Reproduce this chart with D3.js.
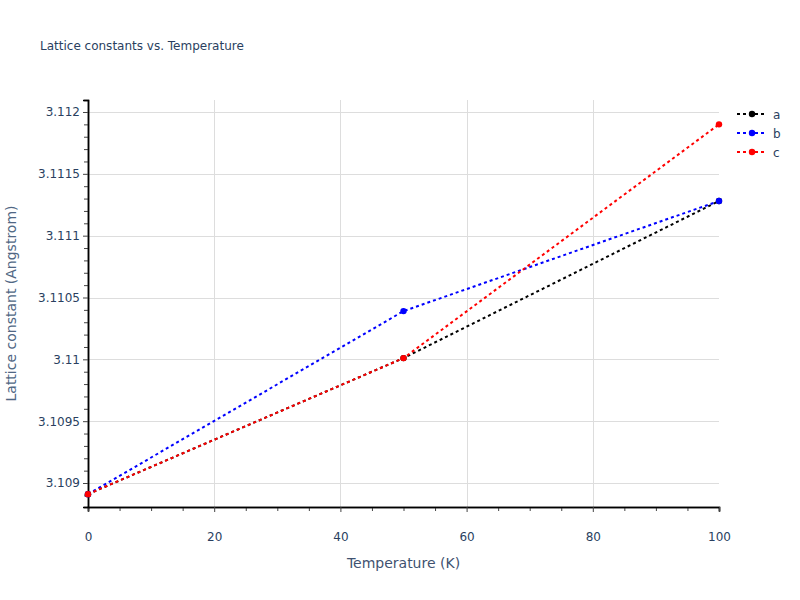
<!DOCTYPE html>
<html>
<head>
<meta charset="utf-8">
<script src="https://cdn.jsdelivr.net/npm/d3@7"></script>
<style>
  body { margin: 0; background: #fff; }
  text { font-family: "DejaVu Sans", Verdana, sans-serif; }
</style>
</head>
<body>
<div id="chart"></div>
<script>
var temperatures = [0, 50, 100];
var seriesNames = ['a', 'b', 'c'];
var seriesColors = ['#000000', '#0000ff', '#ff0000'];
var valuesA = [3.10891, 3.11001, 3.11128];
var valuesB = [3.10891, 3.11039, 3.11128];
var valuesC = [3.10891, 3.11001, 3.11190];
var xTicks = [0, 20, 40, 60, 80, 100];
var yTicks = [3.109, 3.1095, 3.11, 3.1105, 3.111, 3.1115, 3.112];

var width = 800, height = 600,
    plotLeft = 88, plotRight = 719, plotTop = 100, plotBottom = 507,
    textcolor = '#2a3f5f',
    gridcolor = '#dddddd';

var svg = d3.select('#chart').append('svg')
    .attr('width', width)
    .attr('height', height);

var x = d3.scaleLinear().domain([0, 100]).range([plotLeft, plotRight]);
var y = d3.scaleLinear().domain([3.108806, 3.112097]).range([plotBottom, plotTop]);

// grid
svg.append('g').selectAll('line')
    .data(xTicks.filter(function (d) { return d > 0 && d < 100; }))
    .enter().append('line')
    .attr('x1', function (d) { return Math.round(x(d)) + 0.5; })
    .attr('x2', function (d) { return Math.round(x(d)) + 0.5; })
    .attr('y1', plotTop).attr('y2', plotBottom)
    .attr('stroke', gridcolor).attr('stroke-width', 1);

svg.append('g').selectAll('line')
    .data(yTicks)
    .enter().append('line')
    .attr('x1', plotLeft).attr('x2', plotRight)
    .attr('y1', function (d) { return Math.round(y(d)) + 0.5; })
    .attr('y2', function (d) { return Math.round(y(d)) + 0.5; })
    .attr('stroke', gridcolor).attr('stroke-width', 1);

// axes
var xAxis = d3.axisBottom(x).tickValues(xTicks).tickSize(5).tickPadding(20).tickFormat(d3.format('d'));
var xMinor = d3.axisBottom(x).tickValues(d3.range(5, 100, 5).filter(function (d) { return d % 20 !== 0; }))
    .tickSize(4).tickFormat('');
var yAxis = d3.axisLeft(y).tickValues(yTicks).tickSize(5).tickPadding(3)
    .tickFormat(function (d) { return String(+d.toFixed(4)); });
var yMinorVals = [];
for (var k = 31089; k <= 31120; k++) {
    if (k % 5 !== 0) yMinorVals.push(k / 10000);
}
var yMinor = d3.axisLeft(y).tickValues(yMinorVals).tickSize(4).tickFormat('');

function styleAxis(g) {
    g.select('.domain').attr('stroke', '#000').attr('stroke-width', 1.5);
    g.selectAll('.tick line').attr('stroke', '#444').attr('stroke-width', 1);
    g.selectAll('.tick text').attr('fill', textcolor).attr('font-size', 12);
}

svg.append('g').attr('transform', 'translate(0,' + plotBottom + ')').call(xMinor).call(styleAxis);
svg.append('g').attr('transform', 'translate(0,' + plotBottom + ')').call(xAxis).call(styleAxis);
svg.append('g').attr('transform', 'translate(' + plotLeft + ',0)').call(yMinor).call(styleAxis);
svg.append('g').attr('transform', 'translate(' + plotLeft + ',0)').call(yAxis).call(styleAxis);

// series
var series = [valuesA, valuesB, valuesC].map(function (vals, i) {
    return {
        name: seriesNames[i],
        color: seriesColors[i],
        points: vals.map(function (v, j) { return { t: temperatures[j], v: v }; })
    };
});

var line = d3.line()
    .x(function (d) { return x(d.t); })
    .y(function (d) { return y(d.v); });

var plot = svg.append('g');
series.forEach(function (s) {
    plot.append('path')
        .datum(s.points)
        .attr('d', line)
        .attr('fill', 'none')
        .attr('stroke', s.color)
        .attr('stroke-width', 2)
        .attr('stroke-dasharray', '3,3');
    plot.selectAll(null)
        .data(s.points)
        .enter().append('circle')
        .attr('cx', function (d) { return x(d.t); })
        .attr('cy', function (d) { return y(d.v); })
        .attr('r', 3.2)
        .attr('fill', s.color);
});

// legend
var legend = svg.append('g').attr('transform', 'translate(737,114)');
series.forEach(function (s, i) {
    var row = legend.append('g').attr('transform', 'translate(0,' + (i * 19) + ')');
    row.append('line')
        .attr('x1', 0).attr('x2', 30).attr('y1', 0).attr('y2', 0)
        .attr('stroke', s.color).attr('stroke-width', 2)
        .attr('stroke-dasharray', '3,3');
    row.append('circle').attr('cx', 15).attr('cy', 0).attr('r', 3.2).attr('fill', s.color);
    row.append('text').attr('x', 36).attr('y', 4.5)
        .attr('font-size', 12).attr('fill', textcolor).text(s.name);
});

// titles
svg.append('text').attr('x', 40).attr('y', 50)
    .attr('font-size', 12).attr('fill', textcolor)
    .text('Lattice constants vs. Temperature');

svg.append('text').attr('x', (plotLeft + plotRight) / 2).attr('y', 568)
    .attr('text-anchor', 'middle').attr('font-size', 14).attr('fill', '#3f5270')
    .text('Temperature (K)');

svg.append('text')
    .attr('transform', 'translate(16,' + ((plotTop + plotBottom) / 2) + ') rotate(-90)')
    .attr('text-anchor', 'middle').attr('font-size', 14).attr('fill', '#506784')
    .text('Lattice constant (Angstrom)');
</script>
</body>
</html>
